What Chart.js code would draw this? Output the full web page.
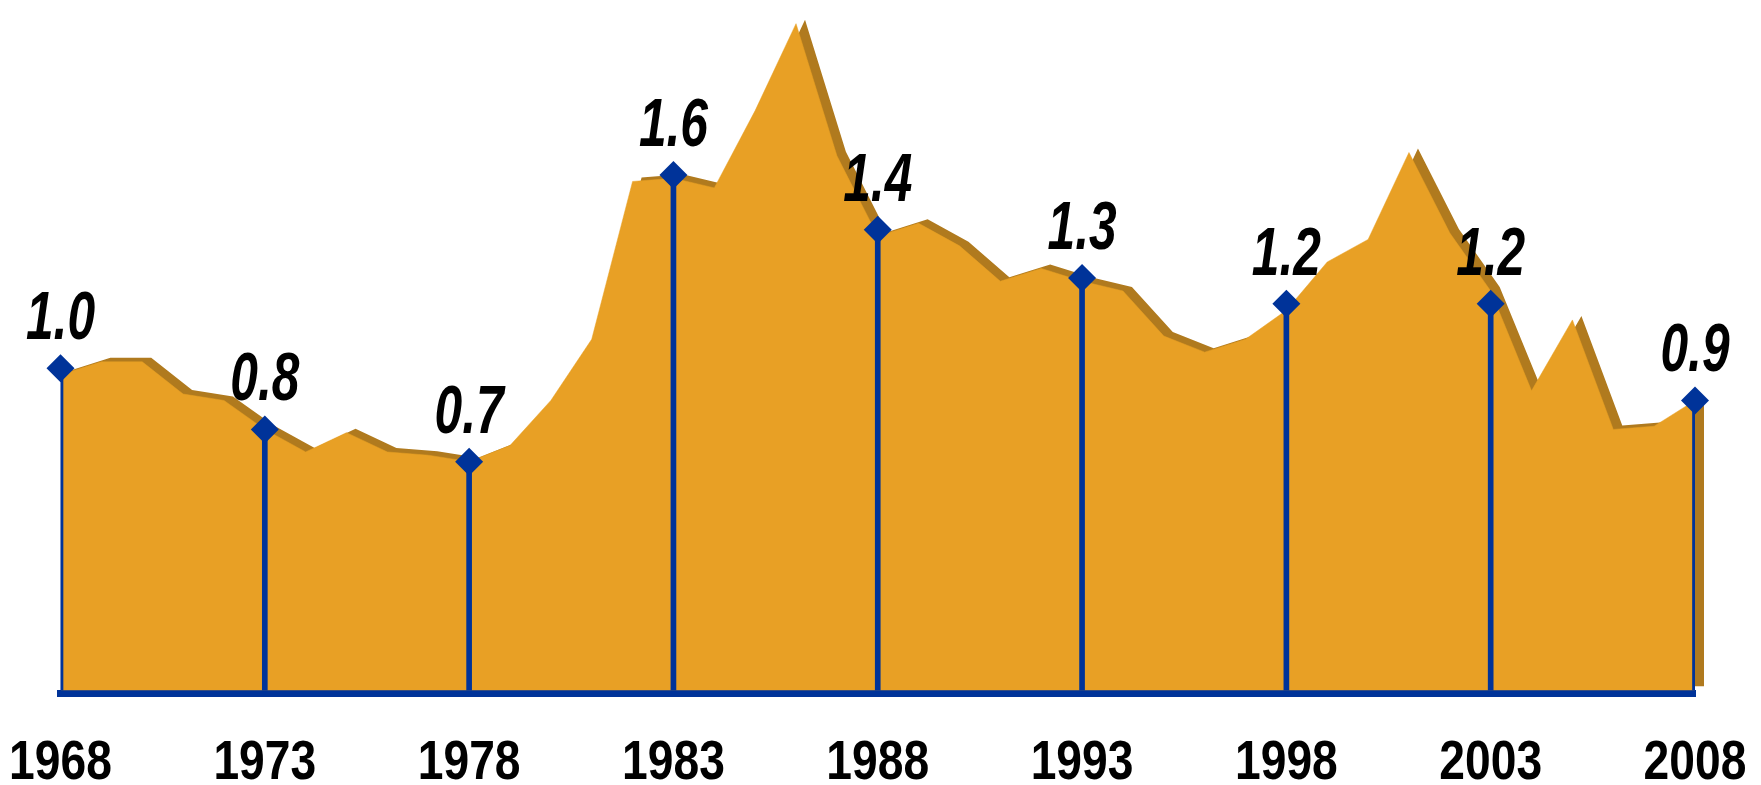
<!DOCTYPE html>
<html>
<head>
<meta charset="utf-8">
<script src="https://cdn.jsdelivr.net/npm/chart.js@4.4.1/dist/chart.umd.min.js"></script>
<style>
  html, body { margin: 0; padding: 0; background: #ffffff; }
  #wrap { width: 1761px; height: 785px; position: relative; }
</style>
</head>
<body>
<div id="wrap"><canvas id="c"></canvas></div>
<script>
// ---- data ----
const years = [1968,1969,1970,1971,1972,1973,1974,1975,1976,1977,1978,1979,1980,1981,1982,1983,1984,1985,1986,1987,1988,1989,1990,1991,1992,1993,1994,1995,1996,1997,1998,1999,2000,2001,2002,2003,2004,2005,2006,2007,2008];
const areaValues = [0.98,1.02,1.02,0.92,0.90,0.81,0.74,0.80,0.74,0.73,0.71,0.76,0.90,1.09,1.58,1.59,1.56,1.80,2.07,1.66,1.41,1.45,1.38,1.27,1.31,1.27,1.24,1.10,1.05,1.09,1.18,1.33,1.40,1.67,1.42,1.24,0.93,1.15,0.81,0.82,0.90];
const markerYears = [1968,1973,1978,1983,1988,1993,1998,2003,2008];
const markerValues = [1.0,0.81,0.71,1.6,1.43,1.28,1.2,1.2,0.9];
const tickYears = [1968,1973,1978,1983,1988,1993,1998,2003,2008];
const tickLabels = ['1968','1973','1978','1983','1988','1993','1998','2003','2008'];

const BLUE = '#003399';
const ORANGE = '#E8A025';
const SHADOW = '#B07A1E';
const FAMILY = "'Liberation Sans', Arial, sans-serif";

const areaPoints = years.map((y, i) => ({ x: y, y: areaValues[i] }));
const markerPoints = markerYears.map((y, i) => ({ x: y, y: markerValues[i] }));

function drawNarrowText(ctx, text, x, y, sx) {
  ctx.save();
  ctx.translate(x, y);
  ctx.scale(sx, 1);
  ctx.fillText(text, 0, 0);
  ctx.restore();
}

const shadowPlugin = {
  id: 'areaShadow',
  beforeDatasetsDraw(chart) { chart.ctx.save(); chart.ctx.translate(9, -4); },
  afterDatasetDraw(chart, args) { if (args.index === 0) chart.ctx.restore(); }
};

const labelPlugin = {
  id: 'narrowLabels',
  afterDraw(chart) {
    const ctx = chart.ctx;
    const xs = chart.scales.x;
    ctx.save();
    ctx.fillStyle = '#000000';
    ctx.textAlign = 'center';
    ctx.textBaseline = 'alphabetic';
    // value labels above the diamonds
    ctx.font = 'italic bold 68px ' + FAMILY;
    const meta = chart.getDatasetMeta(3);
    meta.data.forEach((pt, i) => {
      drawNarrowText(ctx, markerValues[i].toFixed(1), pt.x, pt.y - 29, 0.73);
    });
    // x axis tick labels
    ctx.font = 'bold 55px ' + FAMILY;
    tickYears.forEach((yr, i) => {
      drawNarrowText(ctx, tickLabels[i], xs.getPixelForValue(yr), xs.top + 85.5, 0.84);
    });
    ctx.restore();
  }
};

new Chart(document.getElementById('c'), {
  type: 'line',
  data: {
    datasets: [
      { // shadow of area (drawn first, offset)
        type: 'line', data: areaPoints, order: 4,
        backgroundColor: SHADOW, borderWidth: 0, pointRadius: 0,
        fill: 'origin', tension: 0, clip: false
      },
      { // main area
        type: 'line', data: areaPoints, order: 3,
        backgroundColor: ORANGE, borderColor: ORANGE, borderWidth: 0.5, pointRadius: 0,
        fill: 'origin', tension: 0
      },
      { // drop lines
        type: 'bar', data: markerPoints, order: 2,
        backgroundColor: BLUE, barThickness: 5, grouped: false
      },
      { // diamonds
        type: 'line', data: markerPoints, order: 1, showLine: false,
        pointStyle: 'rectRot', pointRadius: 14, pointBackgroundColor: BLUE,
        pointBorderColor: BLUE, pointBorderWidth: 0, clip: false
      }
    ]
  },
  options: {
    responsive: true,
    maintainAspectRatio: false,
    animation: false,
    devicePixelRatio: 1,
    layout: { padding: { left: 60.5, right: 66, top: 5.5, bottom: 0 } },
    plugins: { legend: { display: false }, tooltip: { enabled: false } },
    scales: {
      x: {
        type: 'linear', min: 1968, max: 2008, offset: false, z: 1,
        afterBuildTicks(axis) { axis.ticks = tickYears.map(v => ({ value: v })); },
        afterFit(scale) { scale.height = 91.5; },
        grid: { display: false, drawTicks: false },
        border: { display: true, color: BLUE, width: 7 },
        ticks: { display: false }
      },
      y: {
        type: 'linear', min: -0.01, max: 2.1, display: false
      }
    }
  },
  plugins: [shadowPlugin, labelPlugin]
});
</script>
</body>
</html>
